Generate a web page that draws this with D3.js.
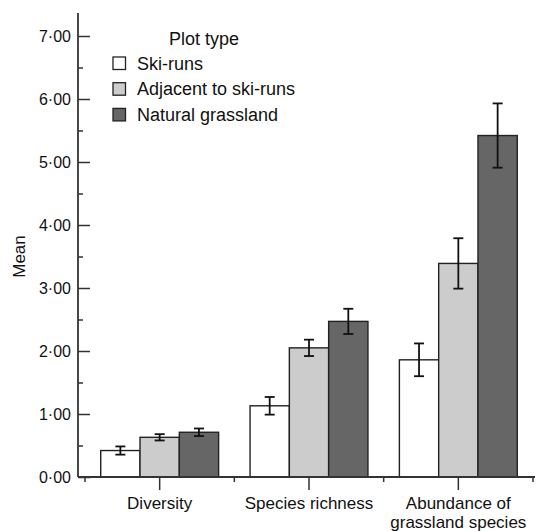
<!DOCTYPE html>
<html>
<head>
<meta charset="utf-8">
<script src="https://cdn.jsdelivr.net/npm/d3@7"></script>
<style>
  body { margin: 0; background: #fff; }
  text { font-family: "Liberation Sans", Arial, sans-serif; fill: #111; }
</style>
</head>
<body>
<div id="chart"></div>
<script>
// data
const categories = ["Diversity", "Species richness", "Abundance of grassland species"];
const categoryLines = [["Diversity"], ["Species richness"], ["Abundance of", "grassland species"]];
const plotTypes = ["Ski-runs", "Adjacent to ski-runs", "Natural grassland"];
const skiRuns = [0.42, 1.13, 1.86];
const adjacent = [0.63, 2.05, 3.39];
const natural = [0.71, 2.47, 5.42];
const skiRunsErr = [0.065, 0.14, 0.26];
const adjacentErr = [0.05, 0.13, 0.40];
const naturalErr = [0.06, 0.20, 0.51];
const yTicks = [0, 1, 2, 3, 4, 5, 6, 7];
const yMinorTicks = [0.5, 1.5, 2.5, 3.5, 4.5, 5.5, 6.5];

const width = 537, height = 531;
const fills = ["#ffffff", "#cccccc", "#666666"];
const means = [skiRuns, adjacent, natural];
const errs = [skiRunsErr, adjacentErr, naturalErr];

const svg = d3.select("#chart").append("svg")
    .attr("width", width)
    .attr("height", height);

const axisX = 78, axisY = 477;

const y = d3.scaleLinear().domain([0, 7]).range([axisY, 36]);
const x = d3.scaleBand().domain(categories).range([85, 533]).paddingInner(0);
const xSub = d3.scaleBand().domain(plotTypes).range([0, x.bandwidth()]).paddingInner(0).paddingOuter(0.4);

// flatten into rows for the bars
const rows = [];
categories.forEach((c, i) => {
    plotTypes.forEach((p, j) => {
        rows.push({cat: c, type: p, mean: means[j][i], err: errs[j][i], fill: fills[j]});
    });
});

// bars
svg.append("g")
    .selectAll("rect")
    .data(rows)
    .join("rect")
    .attr("x", d => x(d.cat) + xSub(d.type))
    .attr("y", d => y(d.mean))
    .attr("width", xSub.bandwidth())
    .attr("height", d => y(0) - y(d.mean))
    .attr("fill", d => d.fill)
    .attr("stroke", "#222")
    .attr("stroke-width", 1.4);

// error bars
const eb = svg.append("g").attr("stroke", "#111").attr("stroke-width", 1.8);
rows.forEach(d => {
    const cx = x(d.cat) + xSub(d.type) + xSub.bandwidth() / 2;
    eb.append("line").attr("x1", cx).attr("x2", cx).attr("y1", y(d.mean + d.err)).attr("y2", y(d.mean - d.err));
    eb.append("line").attr("x1", cx - 5).attr("x2", cx + 5).attr("y1", y(d.mean + d.err)).attr("y2", y(d.mean + d.err));
    eb.append("line").attr("x1", cx - 5).attr("x2", cx + 5).attr("y1", y(d.mean - d.err)).attr("y2", y(d.mean - d.err));
});

// y axis
const yAxis = d3.axisLeft(y)
    .tickValues(yTicks)
    .tickSizeInner(-12)
    .tickSizeOuter(0)
    .tickPadding(7)
    .tickFormat(d => d3.format(".2f")(d).replace(".", "\u00b7"));

const gy = svg.append("g")
    .attr("transform", `translate(${axisX},0)`)
    .call(yAxis);
gy.select(".domain").remove();
gy.selectAll(".tick line").attr("stroke", "#333").attr("stroke-width", 1.5);
gy.selectAll(".tick text").attr("font-size", 16).attr("fill", "#111")
    .attr("font-family", "Liberation Sans, Arial, sans-serif");

const gyMinor = svg.append("g")
    .attr("transform", `translate(${axisX},0)`)
    .call(d3.axisLeft(y).tickValues(yMinorTicks).tickSizeInner(-5).tickSizeOuter(0).tickFormat(""));
gyMinor.select(".domain").remove();
gyMinor.selectAll(".tick line").attr("stroke", "#333").attr("stroke-width", 1.5);

svg.append("line")
    .attr("x1", axisX).attr("x2", axisX)
    .attr("y1", 13).attr("y2", axisY)
    .attr("stroke", "#333").attr("stroke-width", 1.8);

svg.append("text")
    .attr("transform", `translate(19,${(y(0) + y(7)) / 2}) rotate(-90)`)
    .attr("text-anchor", "middle")
    .attr("dy", "0.35em")
    .attr("font-size", 17)
    .text("Mean");

// x axis
svg.append("line")
    .attr("x1", axisX).attr("x2", 535)
    .attr("y1", axisY).attr("y2", axisY)
    .attr("stroke", "#333").attr("stroke-width", 1.8);

const bounds = categories.map(c => x(c)).concat([x.range()[1]]);
svg.append("g")
    .selectAll("line")
    .data(bounds)
    .join("line")
    .attr("x1", d => d).attr("x2", d => d)
    .attr("y1", axisY).attr("y2", axisY + 5)
    .attr("stroke", "#333").attr("stroke-width", 1.5);

svg.append("g")
    .selectAll("line")
    .data(categories)
    .join("line")
    .attr("x1", d => x(d) + x.bandwidth() / 2).attr("x2", d => x(d) + x.bandwidth() / 2)
    .attr("y1", axisY).attr("y2", axisY + 13)
    .attr("stroke", "#333").attr("stroke-width", 1.5);

const xl = svg.append("g")
    .selectAll("text")
    .data(categories)
    .join("text")
    .attr("x", d => x(d) + x.bandwidth() / 2)
    .attr("y", 509)
    .attr("text-anchor", "middle")
    .attr("font-size", 17);
xl.each(function (d, i) {
    d3.select(this).selectAll("tspan")
        .data(categoryLines[i])
        .join("tspan")
        .attr("x", x(d) + x.bandwidth() / 2)
        .attr("dy", (t, k) => k === 0 ? 0 : 19)
        .text(t => t);
});

// legend
const legend = svg.append("g");
legend.append("text")
    .attr("x", 204).attr("y", 45)
    .attr("text-anchor", "middle")
    .attr("font-size", 18)
    .text("Plot type");

const items = legend.selectAll("g.item")
    .data(plotTypes)
    .join("g")
    .attr("class", "item")
    .attr("transform", (d, i) => `translate(113,${69.5 + i * 25.7})`);
items.append("rect")
    .attr("x", 0).attr("y", -12.5)
    .attr("width", 12.5).attr("height", 12.5)
    .attr("fill", (d, i) => fills[i])
    .attr("stroke", "#222")
    .attr("stroke-width", 1.3);
items.append("text")
    .attr("x", 24).attr("y", 0)
    .attr("font-size", 18)
    .text(d => d);
</script>
</body>
</html>
